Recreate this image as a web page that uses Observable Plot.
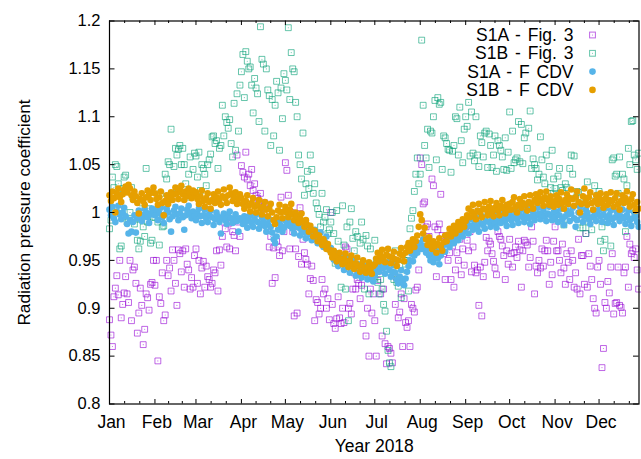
<!DOCTYPE html>
<html>
<head>
<meta charset="utf-8">
<script src="https://cdn.jsdelivr.net/npm/d3@7"></script>
<script src="https://cdn.jsdelivr.net/npm/@observablehq/plot@0.6"></script>
<style>
  html, body { margin: 0; padding: 0; background: #fff; }
  #chart svg { display: block; }
</style>
</head>
<body>
<div id="chart"></div>
<script>
// Daily radiation pressure coefficients for 2018, one inner array per month (Jan..Dec).

// S1A - Fig. 3
const s1aFig3 = [
  [0.888, 0.872, 0.86, 0.912, 0.921, 0.934, 0.914, 0.95, 0.89, 0.904, 0.916, 0.933, 0.915, 0.906, 0.95, 0.887, 0.94, 0.943, 0.926, 0.874, 0.895, 0.921, 0.903, 0.862, 0.878, 0.915, 0.911, 0.898, 0.925, 0.927, 0.95],
  [0.924, 0.95, 0.845, 0.912, 0.905, 0.937, 0.887, 0.893, 0.95, 0.934, 0.942, 0.918, 0.961, 0.95, 0.926, 0.903, 0.961, 0.957, 0.938, 0.96, 0.922, 0.962, 0.946, 0.94, 0.92, 0.932, 0.922, 0.955],
  [0.962, 0.926, 0.95, 0.915, 0.942, 0.949, 0.922, 0.944, 0.933, 0.93, 0.922, 0.926, 0.94, 0.937, 0.96, 0.918, 0.961, 0.945, 0.975, 0.99, 0.983, 0.964, 0.988, 0.962, 0.99, 0.98, 0.976, 0.96, 1.06, 0.99, 0.975],
  [1.049, 1.042, 1.037, 1.063, 1.035, 1.04, 1.028, 1.045, 1.023, 1.03, 1.018, 1.015, 1.012, 1.02, 1.005, 0.998, 1.01, 0.99, 0.985, 0.964, 0.975, 0.926, 0.963, 0.932, 0.97, 0.964, 0.955, 1.016, 0.96, 0.98],
  [1.052, 1.044, 1.018, 0.962, 1.0, 0.98, 0.892, 0.962, 0.895, 0.954, 1.005, 0.946, 0.972, 0.958, 0.951, 0.946, 0.915, 0.931, 0.944, 0.929, 0.887, 0.909, 0.906, 0.894, 0.9, 0.93, 0.915, 0.92, 0.9, 0.91, 0.888],
  [1.0, 0.904, 0.884, 0.879, 0.889, 0.912, 0.89, 0.884, 0.9, 0.885, 0.964, 0.962, 0.9, 0.905, 0.894, 0.92, 0.937, 0.92, 0.93, 0.926, 0.91, 0.924, 0.884, 0.935, 0.871, 0.9, 0.85, 0.92, 0.895, 0.915],
  [0.887, 0.85, 0.929, 0.939, 0.915, 0.871, 0.92, 0.863, 0.842, 0.86, 0.858, 0.853, 0.843, 0.935, 0.904, 0.932, 0.89, 0.896, 0.915, 0.86, 0.91, 0.885, 0.88, 0.887, 0.86, 0.904, 0.9, 0.896, 0.919, 0.922, 0.94],
  [1.057, 1.05, 1.009, 1.011, 0.985, 0.988, 0.975, 0.96, 1.035, 1.028, 0.985, 0.933, 0.982, 0.988, 1.019, 0.976, 0.957, 0.93, 0.969, 0.95, 0.958, 0.93, 0.965, 0.922, 0.94, 0.958, 0.95, 0.972, 0.935, 0.962, 0.945],
  [0.985, 0.971, 0.96, 0.98, 0.938, 0.964, 0.945, 0.937, 0.94, 0.903, 0.943, 0.892, 0.933, 0.948, 0.974, 0.96, 0.97, 0.967, 0.957, 0.949, 0.942, 0.935, 0.98, 0.975, 0.972, 0.965, 0.955, 0.93, 0.96, 0.946],
  [0.972, 0.957, 0.943, 0.958, 0.964, 0.953, 0.97, 0.961, 0.922, 0.96, 0.971, 0.969, 0.966, 0.943, 0.953, 0.985, 0.97, 0.915, 0.944, 0.937, 0.95, 0.942, 0.962, 0.944, 0.96, 0.971, 0.96, 0.925, 0.948, 0.935, 0.97],
  [0.985, 0.96, 0.96, 0.95, 0.937, 0.967, 0.942, 0.925, 0.957, 0.948, 0.93, 0.96, 0.95, 0.922, 0.937, 0.92, 0.972, 0.915, 0.955, 0.955, 0.925, 0.978, 0.922, 0.957, 0.944, 0.93, 0.91, 0.9, 0.895, 0.943],
  [0.95, 0.925, 0.838, 0.858, 0.906, 0.9, 0.928, 0.916, 0.943, 0.957, 0.894, 0.905, 0.906, 0.943, 0.903, 0.901, 0.895, 0.937, 0.943, 0.975, 0.922, 0.967, 0.957, 0.96, 0.953, 0.962, 0.94, 0.92]
];

// S1B - Fig. 3
const s1bFig3 = [
  [0.983, 0.992, 1.037, 1.026, 1.05, 1.048, 1.03, 0.962, 0.965, 1.025, 1.037, 1.039, 0.99, 0.992, 1.0, 1.026, 1.016, 0.988, 0.993, 0.971, 0.962, 0.97, 1.01, 0.985, 0.975, 1.046, 0.99, 1.004, 0.968, 0.971, 0.995],
  [0.995, 1.0, 0.99, 0.966, 1.02, 0.985, 0.986, 1.04, 1.035, 1.053, 1.05, 1.087, 1.02, 1.048, 1.067, 1.06, 1.066, 1.07, 1.05, 1.067, 1.05, 1.03, 1.016, 1.04, 1.058, 0.998, 1.045, 1.062],
  [1.059, 1.037, 1.063, 1.023, 1.05, 1.046, 1.04, 1.028, 1.05, 1.055, 1.061, 1.079, 1.08, 1.072, 1.075, 1.046, 1.067, 1.07, 1.112, 1.08, 1.1, 1.094, 1.088, 1.097, 1.072, 1.058, 1.114, 1.065, 1.124, 1.085, 1.133],
  [1.147, 1.165, 1.12, 1.168, 1.158, 1.15, 1.152, 1.133, 1.104, 1.14, 1.13, 1.124, 1.095, 1.194, 1.16, 1.155, 1.085, 1.15, 1.128, 1.122, 1.07, 1.118, 1.08, 1.112, 1.137, 1.125, 1.065, 1.13, 1.098, 1.145],
  [1.138, 1.128, 1.193, 1.118, 1.167, 1.15, 1.147, 1.115, 1.1, 1.06, 1.05, 1.035, 1.083, 1.018, 1.03, 1.043, 1.025, 1.06, 1.045, 1.02, 1.03, 1.01, 1.004, 0.998, 0.985, 1.02, 0.99, 0.995, 1.003, 0.978, 0.982],
  [0.99, 1.0, 0.978, 0.947, 1.002, 0.97, 0.955, 0.922, 1.007, 0.966, 0.92, 0.985, 0.887, 0.99, 1.004, 0.973, 0.96, 0.98, 0.975, 0.935, 0.968, 0.99, 0.972, 0.92, 0.976, 0.965, 0.915, 0.962, 0.945, 0.93],
  [0.971, 0.95, 0.927, 0.915, 0.93, 0.92, 0.904, 0.897, 0.876, 0.856, 0.843, 0.839, 0.94, 0.93, 0.96, 0.927, 0.923, 0.945, 0.911, 0.93, 0.95, 0.94, 0.95, 0.918, 0.983, 0.994, 1.002, 1.022, 1.04, 1.057, 1.03],
  [1.04, 1.18, 1.112, 1.07, 1.057, 1.087, 1.047, 1.085, 1.083, 1.1, 1.117, 1.055, 1.12, 1.113, 1.115, 1.045, 1.08, 1.078, 1.072, 1.066, 1.065, 1.042, 1.064, 1.07, 1.1, 1.098, 1.06, 1.11, 1.075, 1.052, 1.087],
  [1.1, 1.09, 1.115, 1.059, 1.105, 1.062, 1.054, 1.1, 1.06, 1.048, 1.08, 1.073, 1.058, 1.083, 1.085, 1.047, 1.082, 1.07, 1.047, 1.06, 1.08, 1.043, 1.075, 1.07, 1.065, 1.058, 1.045, 1.078, 1.044, 1.063],
  [1.105, 1.046, 1.085, 1.052, 1.055, 1.057, 1.095, 1.053, 1.092, 1.051, 1.078, 1.083, 1.067, 1.088, 1.106, 1.046, 1.056, 1.05, 1.046, 1.034, 1.04, 1.079, 1.055, 1.037, 1.03, 1.06, 1.02, 1.048, 1.026, 1.065, 1.035],
  [1.025, 1.02, 1.038, 1.046, 1.026, 1.023, 0.987, 1.03, 1.026, 1.005, 1.046, 1.06, 1.04, 1.059, 1.015, 1.022, 1.021, 0.984, 1.01, 0.984, 1.0, 0.978, 1.032, 0.99, 1.005, 0.982, 1.012, 1.028, 0.995, 1.018],
  [1.022, 0.97, 0.985, 0.96, 0.972, 0.99, 1.0, 1.012, 0.965, 1.055, 1.057, 1.038, 1.04, 1.02, 1.058, 1.01, 1.04, 1.035, 0.98, 1.028, 1.067, 1.05, 1.095, 1.096, 1.06, 1.055, 1.045, 1.062]
];

// S1A - F CDV
const s1aCdv = [
  [1.003, 0.997, 1.006, 0.994, 0.99, 1.001, 1.007, 0.998, 0.993, 1.0, 1.005, 0.996, 0.988, 0.978, 0.992, 0.98, 0.99, 0.997, 0.979, 0.994, 1.002, 0.998, 0.991, 0.996, 1.004, 1.0, 0.995, 0.989, 0.998, 1.004, 1.001],
  [0.997, 1.003, 0.992, 0.999, 1.005, 0.995, 0.989, 0.998, 1.004, 1.0, 0.993, 0.98, 0.996, 1.002, 1.006, 0.998, 0.992, 0.999, 1.004, 0.995, 0.982, 0.997, 1.003, 1.007, 0.999, 0.994, 1.001, 0.996],
  [0.992, 0.999, 1.004, 0.996, 0.989, 0.997, 1.003, 0.994, 0.99, 0.998, 1.002, 0.995, 0.987, 0.993, 1.0, 0.996, 0.99, 0.978, 0.994, 0.999, 0.992, 0.988, 0.996, 1.001, 0.994, 0.989, 0.993, 0.998, 0.991, 0.98, 0.994],
  [0.993, 0.988, 0.996, 0.99, 0.984, 0.992, 0.997, 0.989, 0.985, 0.993, 0.998, 0.99, 0.983, 0.988, 0.995, 0.991, 0.986, 0.98, 0.988, 0.993, 0.985, 0.979, 0.972, 0.968, 0.975, 0.982, 0.99, 0.986, 0.98, 0.984],
  [0.992, 0.988, 0.995, 0.986, 0.99, 0.983, 0.978, 0.987, 0.992, 0.984, 0.976, 0.981, 0.988, 0.979, 0.973, 0.98, 0.985, 0.977, 0.971, 0.976, 0.982, 0.974, 0.968, 0.973, 0.979, 0.97, 0.964, 0.969, 0.975, 0.966, 0.961],
  [0.963, 0.957, 0.951, 0.958, 0.948, 0.944, 0.952, 0.955, 0.946, 0.94, 0.947, 0.953, 0.943, 0.937, 0.945, 0.95, 0.941, 0.934, 0.94, 0.946, 0.938, 0.932, 0.939, 0.944, 0.936, 0.93, 0.937, 0.942, 0.933, 0.928],
  [0.934, 0.94, 0.946, 0.938, 0.943, 0.95, 0.942, 0.936, 0.944, 0.948, 0.94, 0.933, 0.938, 0.945, 0.937, 0.93, 0.926, 0.933, 0.94, 0.929, 0.924, 0.931, 0.938, 0.944, 0.95, 0.957, 0.949, 0.955, 0.962, 0.958, 0.965],
  [0.968, 0.962, 0.972, 0.965, 0.958, 0.963, 0.955, 0.95, 0.957, 0.948, 0.953, 0.96, 0.952, 0.946, 0.955, 0.961, 0.966, 0.959, 0.967, 0.972, 0.964, 0.969, 0.975, 0.968, 0.973, 0.979, 0.971, 0.976, 0.982, 0.975, 0.98],
  [0.984, 0.99, 0.978, 0.986, 0.993, 0.982, 0.988, 0.995, 0.985, 0.98, 0.989, 0.996, 0.987, 0.983, 0.991, 0.998, 0.99, 0.985, 0.993, 0.999, 0.988, 0.984, 0.992, 0.997, 0.989, 0.994, 1.0, 0.991, 0.986, 0.995],
  [0.998, 0.992, 0.987, 0.996, 1.002, 0.993, 0.989, 0.997, 1.003, 0.995, 0.99, 0.998, 1.004, 0.994, 0.988, 0.996, 1.001, 0.992, 0.997, 1.005, 0.999, 0.993, 0.998, 1.003, 0.996, 0.991, 0.999, 1.006, 0.997, 0.992, 1.0],
  [0.995, 1.001, 0.99, 0.997, 1.004, 0.993, 0.987, 0.996, 1.002, 0.998, 0.991, 0.999, 1.005, 0.994, 0.985, 0.992, 1.0, 1.006, 0.997, 0.99, 0.996, 1.003, 0.999, 0.993, 0.988, 0.995, 1.002, 0.997, 0.991, 0.998],
  [1.003, 0.996, 0.99, 0.998, 1.004, 0.995, 0.989, 0.997, 1.002, 0.993, 0.987, 0.995, 1.001, 0.998, 0.991, 0.996, 1.003, 0.994, 0.988, 0.997, 1.002, 0.992, 0.986, 0.994, 1.0, 0.996, 0.99, 0.985]
];

// S1B - F CDV
const s1bCdv = [
  [1.018, 1.012, 1.022, 1.015, 1.0, 1.02, 1.025, 1.016, 1.011, 1.019, 1.024, 1.027, 1.021, 1.029, 1.025, 1.018, 1.013, 1.022, 1.017, 1.01, 0.999, 1.014, 1.02, 1.012, 1.008, 1.016, 1.023, 1.019, 1.013, 1.021, 1.026],
  [1.02, 1.014, 1.008, 1.016, 1.022, 1.01, 0.997, 1.012, 1.018, 1.009, 1.015, 1.021, 1.013, 1.019, 1.026, 1.02, 1.014, 1.024, 1.028, 1.019, 1.013, 1.022, 1.017, 1.025, 1.02, 1.015, 1.023, 1.018],
  [1.021, 1.014, 1.009, 1.017, 1.023, 1.012, 1.006, 1.015, 1.02, 1.011, 1.004, 1.013, 1.019, 1.01, 1.016, 1.022, 1.013, 1.008, 1.017, 1.024, 1.015, 1.01, 1.018, 1.026, 1.02, 1.012, 1.016, 1.021, 1.009, 1.014, 1.019],
  [1.015, 1.009, 1.004, 1.012, 1.018, 1.007, 1.001, 1.01, 1.015, 1.006, 1.0, 1.008, 1.013, 1.004, 0.998, 1.006, 1.011, 1.003, 0.996, 1.004, 1.009, 1.0, 0.992, 0.988, 0.995, 1.002, 1.008, 1.0, 0.994, 1.001],
  [1.006, 1.0, 0.995, 1.003, 1.009, 0.998, 0.992, 1.0, 0.996, 0.989, 0.994, 0.999, 0.99, 0.985, 0.992, 0.987, 0.98, 0.986, 0.982, 0.975, 0.981, 0.977, 0.97, 0.976, 0.972, 0.966, 0.972, 0.968, 0.962, 0.967, 0.961],
  [0.958, 0.953, 0.96, 0.955, 0.949, 0.954, 0.958, 0.951, 0.946, 0.952, 0.957, 0.948, 0.943, 0.95, 0.955, 0.946, 0.941, 0.947, 0.953, 0.944, 0.938, 0.945, 0.95, 0.942, 0.937, 0.943, 0.948, 0.94, 0.936, 0.944],
  [0.946, 0.952, 0.958, 0.949, 0.955, 0.961, 0.953, 0.948, 0.956, 0.962, 0.954, 0.947, 0.953, 0.959, 0.951, 0.944, 0.95, 0.957, 0.963, 0.955, 0.949, 0.958, 0.964, 0.968, 0.96, 0.966, 0.972, 0.964, 0.97, 0.976, 0.985],
  [0.998, 0.992, 0.978, 0.984, 0.972, 0.966, 0.974, 0.968, 0.962, 0.97, 0.965, 0.958, 0.967, 0.973, 0.965, 0.96, 0.969, 0.976, 0.97, 0.977, 0.983, 0.975, 0.98, 0.986, 0.978, 0.984, 0.99, 0.982, 0.987, 0.993, 0.985],
  [0.991, 0.997, 1.004, 0.995, 1.001, 1.008, 0.998, 0.993, 1.002, 1.009, 1.0, 0.995, 1.004, 1.011, 1.003, 0.997, 1.006, 1.012, 1.001, 0.996, 1.005, 1.01, 1.002, 0.997, 1.007, 1.013, 1.004, 0.999, 1.008, 1.003],
  [1.009, 1.003, 1.011, 1.016, 1.006, 1.0, 1.008, 1.014, 1.005, 1.01, 1.017, 1.008, 1.002, 1.011, 1.018, 1.009, 1.004, 1.013, 1.019, 1.01, 1.015, 1.021, 1.012, 1.007, 1.016, 1.022, 1.013, 1.008, 1.017, 1.011, 1.006],
  [1.012, 1.018, 1.008, 1.014, 1.021, 1.01, 1.004, 1.013, 1.019, 1.009, 1.015, 1.024, 1.014, 1.007, 1.016, 1.022, 1.011, 1.0, 1.009, 1.017, 1.025, 1.013, 1.008, 1.016, 1.021, 1.01, 1.003, 1.012, 1.018, 1.009],
  [1.015, 1.02, 1.01, 1.005, 1.014, 1.019, 1.008, 1.013, 1.021, 1.012, 1.006, 1.015, 1.02, 1.009, 1.003, 1.012, 1.018, 1.01, 1.015, 1.022, 1.011, 1.006, 1.014, 1.019, 1.008, 1.002, 1.011, 1.004]
];

const seriesLabels = ["S1A - Fig. 3", "S1B - Fig. 3", "S1A - F CDV", "S1B - F CDV"];
const seriesColors = ["#9400d3", "#009e73", "#56b4e9", "#e69f00"];
const yTicks = [0.8, 0.85, 0.9, 0.95, 1, 1.05, 1.1, 1.15, 1.2];
const xTitle = "Year 2018";
const yTitle = "Radiation pressure coefficient";

const FONT = "'Liberation Sans', Arial, Helvetica, sans-serif";
const W = 641, H = 459;
const M = {top: 20.5, right: 2.5, bottom: 55.5, left: 109};
const innerW = W - M.left - M.right;
const innerH = H - M.top - M.bottom;

// Expand month arrays into dated rows.
const toRows = (months) => months.flatMap((vals, m) =>
  vals.map((v, i) => ({date: new Date(Date.UTC(2018, m, i + 1)), value: v}))
).filter(d => d.value != null);

const rowsA3 = toRows(s1aFig3);
const rowsB3 = toRows(s1bFig3);
const rowsAC = toRows(s1aCdv);
const rowsBC = toRows(s1bCdv);

const xStart = new Date(Date.UTC(2018, 0, 1));
const xEnd = new Date(Date.UTC(2018, 11, 28, 6));

// Major ticks on month starts, two minor ticks in between (thirds of a month).
const monthStarts = d3.utcMonths(xStart, new Date(Date.UTC(2019, 0, 2)));
const majorTicks = monthStarts.filter(d => d <= xEnd);
const minorTicks = d3.pairs(monthStarts).flatMap(([a, b]) =>
  [1, 2].map(k => new Date(+a + (b - a) * k / 3))
).filter(d => d <= xEnd);

const squares = (rows, color) => [
  Plot.dot(rows, {x: "date", y: "value", symbol: "square", r: 3.3, stroke: color, strokeOpacity: 0.6, strokeWidth: 1, fill: "none"}),
  Plot.dot(rows, {x: "date", y: "value", r: 0.55, fill: color, fillOpacity: 0.6})
];
const circles = (rows, color) =>
  Plot.dot(rows, {x: "date", y: "value", r: 3.3, fill: color, stroke: "none"});

const plot = Plot.plot({
  width: W,
  height: H,
  marginTop: M.top,
  marginRight: M.right,
  marginBottom: M.bottom,
  marginLeft: M.left,
  style: {fontFamily: FONT, fontSize: "16px", color: "#000", background: "#fff", overflow: "visible"},
  x: {type: "utc", domain: [xStart, xEnd]},
  y: {domain: [0.8, 1.2]},
  marks: [
    ...squares(rowsA3, seriesColors[0]),
    ...squares(rowsB3, seriesColors[1]),
    circles(rowsAC, seriesColors[2]),
    circles(rowsBC, seriesColors[3]),
    // inward ticks on all four sides
    Plot.tickX(majorTicks, {x: d => d, insetTop: innerH - 4.5, stroke: "#000"}),
    Plot.tickX(majorTicks, {x: d => d, insetBottom: innerH - 4.5, stroke: "#000"}),
    Plot.tickX(minorTicks, {x: d => d, insetTop: innerH - 2.5, stroke: "#000"}),
    Plot.tickX(minorTicks, {x: d => d, insetBottom: innerH - 2.5, stroke: "#000"}),
    Plot.tickY(yTicks, {y: d => d, insetRight: innerW - 5.5, stroke: "#000"}),
    Plot.tickY(yTicks, {y: d => d, insetLeft: innerW - 5.5, stroke: "#000"}),
    Plot.frame({stroke: "#000", strokeWidth: 1.2}),
    Plot.axisX(majorTicks, {
      tickSize: 0, tickPadding: 12, dx: 2,
      tickFormat: d3.utcFormat("%b"), label: null, fontSize: 17.5
    }),
    Plot.axisY(yTicks, {
      tickSize: 0, tickPadding: 9,
      tickFormat: d => `${d}`, label: null, fontSize: 16.5
    }),
    Plot.text([xTitle], {frameAnchor: "bottom", dy: 47.5, text: d => d, fontSize: 17.5}),
    Plot.text([yTitle], {frameAnchor: "left", dx: -85.5, rotate: -90, textAnchor: "middle", text: d => d, fontSize: 17.2})
  ]
});

// Key in the upper right corner of the frame.
const svg = d3.select(plot);
const right = W - M.right;
const key = svg.append("g")
  .attr("font-family", FONT)
  .attr("font-size", 17.5)
  .attr("fill", "#000");
seriesLabels.forEach((label, i) => {
  const y = M.top + 14.5 + i * 18.3;
  key.append("text")
    .attr("x", right - 65)
    .attr("y", y)
    .attr("dy", "0.35em")
    .attr("text-anchor", "end")
    .attr("word-spacing", "2px")
    .text(label);
  const cx = right - 46;
  if (i < 2) {
    key.append("rect")
      .attr("x", cx - 2.9).attr("y", y - 2.9)
      .attr("width", 5.8).attr("height", 5.8)
      .attr("fill", "none")
      .attr("stroke", seriesColors[i]).attr("stroke-opacity", 0.6);
    key.append("circle").attr("cx", cx).attr("cy", y).attr("r", 0.55)
      .attr("fill", seriesColors[i]).attr("fill-opacity", 0.6);
  } else {
    key.append("circle").attr("cx", cx).attr("cy", y).attr("r", 3.3)
      .attr("fill", seriesColors[i]);
  }
});

document.getElementById("chart").appendChild(plot);
</script>
</body>
</html>
